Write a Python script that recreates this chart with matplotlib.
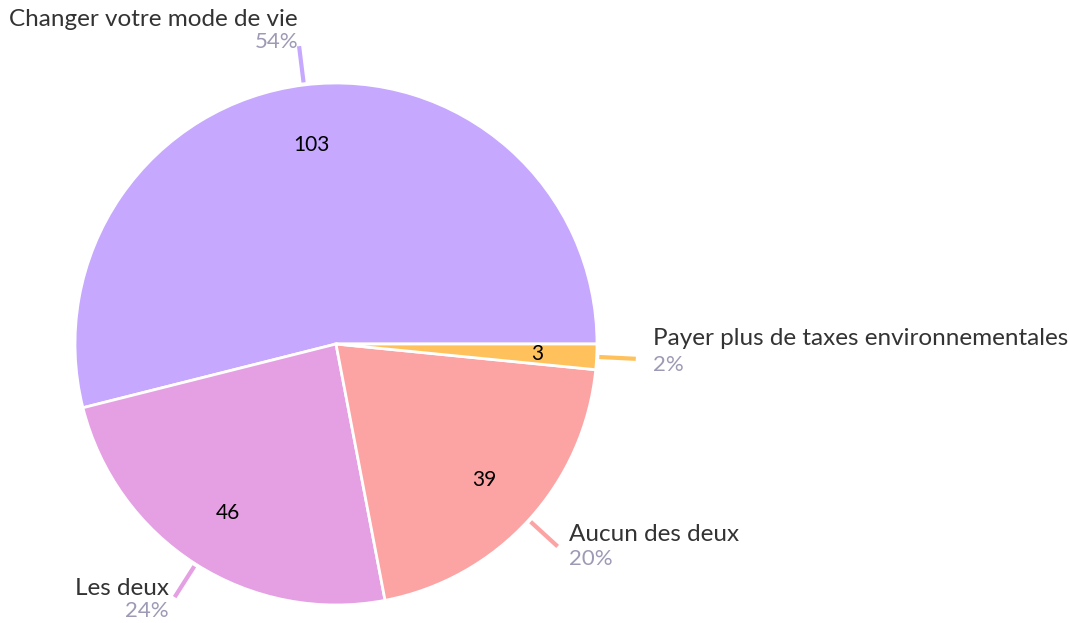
import numpy as np
import matplotlib.pyplot as plt

plt.rcParams['font.family'] = ['Lato', 'DejaVu Sans']

# données
labels = ['Changer votre mode de vie', 'Les deux', 'Aucun des deux',
          'Payer plus de taxes environnementales']
counts = [103, 46, 39, 3]
colors = ['#C6A8FE', '#E4A0E3', '#FCA3A3', '#FFC15C']

total = sum(counts)
pcts = [round(c * 100 / total) for c in counts]

W, H = 1069, 623
fig = plt.figure(figsize=(W / 100, H / 100), dpi=100)
ax = fig.add_axes([0, 0, 1, 1])

cx, cy, R = 336, H - 344, 261
wedges, _ = ax.pie(counts, colors=colors, startangle=0, counterclock=True,
                   center=(cx, cy), radius=R, frame=True,
                   wedgeprops=dict(edgecolor='white', linewidth=2))
ax.set_xlim(0, W)
ax.set_ylim(0, H)
ax.set_aspect('equal')
ax.axis('off')

# décalages des étiquettes (nom, pourcentage) par rapport au bout du trait
offs = [((-1, 27), (-1, 4)),
        ((-6, 9), (-6, -14)),
        ((11, 12), (11, -13)),
        ((17, 20), (17, -6))]

for w, lab, n, p, col, (o1, o2) in zip(wedges, labels, counts, pcts, colors, offs):
    a = np.deg2rad((w.theta1 + w.theta2) / 2)
    ca, sa = np.cos(a), np.sin(a)
    ax.text(cx + 0.77 * R * ca, cy + 0.77 * R * sa, str(n), ha='center', va='center',
            fontsize=15, color='black')
    x0, y0 = cx + 1.01 * R * ca, cy + 1.01 * R * sa
    x1, y1 = cx + 1.15 * R * ca, cy + 1.15 * R * sa
    ax.plot([x0, x1], [y0, y1], color=col, lw=3, solid_capstyle='butt')
    ha = 'left' if ca > 0.3 else 'right'
    ax.text(x1 + o1[0], y1 + o1[1], lab, ha=ha, va='center', fontsize=17.5, color='#333333')
    ax.text(x1 + o2[0], y1 + o2[1], f'{p}%', ha=ha, va='center', fontsize=16, color='#9D9AB5')

fig.savefig('out.png', dpi=100)
